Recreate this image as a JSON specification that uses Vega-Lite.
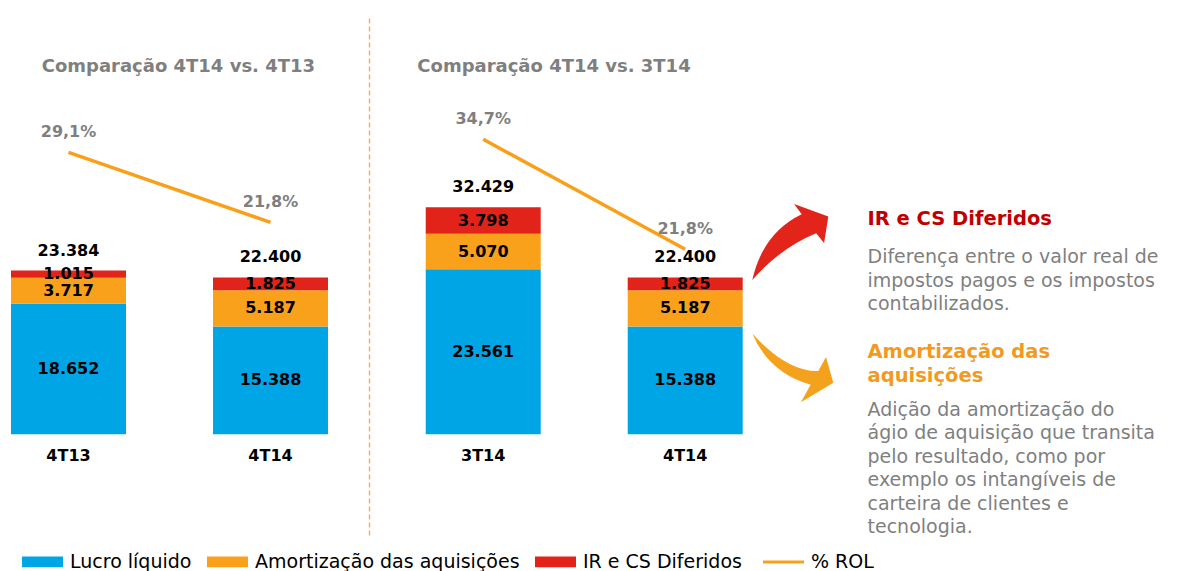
{
  "$schema": "https://vega.github.io/schema/vega-lite/v6.json",
  "padding": {"left": 0, "top": 15, "right": 0, "bottom": 0},
  "bounds": "flush",
  "spacing": 0,
  "background": "white",
  "datasets": {
    "barras": [
      {"painel": "A", "periodo": "4T13", "serie": "Lucro líquido", "ordem": 1, "valor": 18652},
      {"painel": "A", "periodo": "4T13", "serie": "Amortização das aquisições", "ordem": 2, "valor": 3717},
      {"painel": "A", "periodo": "4T13", "serie": "IR e CS Diferidos", "ordem": 3, "valor": 1015},
      {"painel": "A", "periodo": "4T14", "serie": "Lucro líquido", "ordem": 1, "valor": 15388},
      {"painel": "A", "periodo": "4T14", "serie": "Amortização das aquisições", "ordem": 2, "valor": 5187},
      {"painel": "A", "periodo": "4T14", "serie": "IR e CS Diferidos", "ordem": 3, "valor": 1825},
      {"painel": "B", "periodo": "3T14", "serie": "Lucro líquido", "ordem": 1, "valor": 23561},
      {"painel": "B", "periodo": "3T14", "serie": "Amortização das aquisições", "ordem": 2, "valor": 5070},
      {"painel": "B", "periodo": "3T14", "serie": "IR e CS Diferidos", "ordem": 3, "valor": 3798},
      {"painel": "B", "periodo": "4T14", "serie": "Lucro líquido", "ordem": 1, "valor": 15388},
      {"painel": "B", "periodo": "4T14", "serie": "Amortização das aquisições", "ordem": 2, "valor": 5187},
      {"painel": "B", "periodo": "4T14", "serie": "IR e CS Diferidos", "ordem": 3, "valor": 1825}
    ],
    "totais": [
      {"painel": "A", "periodo": "4T13", "total": 23384, "rol": 0.291},
      {"painel": "A", "periodo": "4T14", "total": 22400, "rol": 0.218},
      {"painel": "B", "periodo": "3T14", "total": 32429, "rol": 0.347},
      {"painel": "B", "periodo": "4T14", "total": 22400, "rol": 0.218}
    ]
  },
  "hconcat": [
    {
      "width": 369,
      "height": 520,
      "title": {"text": "Comparação 4T14 vs. 4T13", "anchor": "start", "frame": "group", "offset": -74.5, "baseline": "alphabetic", "dx": 41.7, "font": "DejaVu Sans", "fontSize": 18, "fontWeight": "bold", "color": "#7F7F7F"},
      "resolve": {"scale": {"y": "independent"}},
      "layer": [
        {
          "layer": [
            {
              "data": {"name": "barras"},
              "transform": [{"filter": "datum.painel === 'A'"}],
              "mark": {"type": "bar"},
              "encoding": {
                "x": {"field": "periodo", "type": "nominal", "scale": {"type": "band", "paddingInner": 0.4307, "paddingOuter": 0.1287, "align": 0.2115}, "axis": null},
                "y": {"field": "valor", "type": "quantitative", "stack": "zero", "scale": {"domain": [-14400, 59900], "nice": false, "zero": false},
                      "axis": {"orient": "right", "domain": true, "domainColor": "#F6B26B", "domainDash": [5, 3], "domainWidth": 1.5, "ticks": false, "labels": false, "grid": false, "title": null}},
                "color": {"field": "serie", "type": "nominal",
                          "scale": {"domain": ["Lucro líquido", "Amortização das aquisições", "IR e CS Diferidos", "% ROL"], "range": ["#00A5E6", "#F9A11B", "#E2231A", "#F9A01B"]},
                          "legend": {"orient": "none", "legendX": 33, "legendY": 537.2, "direction": "horizontal", "columns": 4, "title": null,
                                     "labelFont": "DejaVu Sans", "labelFontSize": 19, "labelColor": "#000000", "labelOffset": 18, "labelLimit": 400,
                                     "columnPadding": 15, "symbolSize": 1681, "symbolType": "M-1,-0.26H1V0.26H-1Z", "symbolStrokeWidth": 0,
                                     "encode": {"symbols": {"update": {
                                       "shape": {"signal": "datum.value === '% ROL' ? 'M-1,0H1' : 'M-1,-0.26H1V0.26H-1Z'"},
                                       "fill": {"signal": "datum.value === '% ROL' ? 'transparent' : scale('color', datum.value)"},
                                       "stroke": {"signal": "scale('color', datum.value)"},
                                       "strokeWidth": {"signal": "datum.value === '% ROL' ? 3 : 0"},
                                       "opacity": {"value": 1}
                                     }}}}},
                "order": {"field": "ordem", "type": "quantitative"}
              }
            },
            {
              "data": {"name": "barras"},
              "transform": [{"filter": "datum.painel === 'A'"}],
              "mark": {"type": "text", "font": "DejaVu Sans", "fontWeight": "bold", "fontSize": 16, "color": "#000000", "baseline": "middle"},
              "encoding": {
                "x": {"field": "periodo", "type": "nominal", "axis": null},
                "y": {"field": "valor", "type": "quantitative", "stack": "zero", "bandPosition": 0.5},
                "detail": {"field": "serie"},
                "order": {"field": "ordem", "type": "quantitative"},
                "text": {"field": "valor", "type": "quantitative", "format": ",d"}
              }
            },
            {
              "data": {"name": "totais"},
              "transform": [{"filter": "datum.painel === 'A'"}],
              "mark": {"type": "text", "font": "DejaVu Sans", "fontWeight": "bold", "fontSize": 16, "color": "#000000", "baseline": "middle", "dy": -20},
              "encoding": {
                "x": {"field": "periodo", "type": "nominal", "axis": null},
                "y": {"field": "total", "type": "quantitative"},
                "text": {"field": "total", "type": "quantitative", "format": ",d"}
              }
            },
            {
              "data": {"name": "totais"},
              "transform": [{"filter": "datum.painel === 'A'"}],
              "mark": {"type": "text", "font": "DejaVu Sans", "fontWeight": "bold", "fontSize": 16, "color": "#000000", "baseline": "middle", "dy": 21.5},
              "encoding": {
                "x": {"field": "periodo", "type": "nominal", "axis": null},
                "y": {"datum": 0, "type": "quantitative"},
                "text": {"field": "periodo", "type": "nominal"}
              }
            }
          ]
        },
        {
          "layer": [
            {
              "data": {"name": "totais"},
              "transform": [{"filter": "datum.painel === 'A'"}],
              "mark": {"type": "line", "strokeWidth": 3.5},
              "encoding": {
                "x": {"field": "periodo", "type": "nominal", "axis": null},
                "y": {"field": "rol", "type": "quantitative", "scale": {"domain": [-0.1081, 0.4342], "nice": false, "zero": false}, "axis": null},
                "color": {"datum": "% ROL", "type": "nominal"}
              }
            },
            {
              "data": {"name": "totais"},
              "transform": [{"filter": "datum.painel === 'A'"}],
              "mark": {"type": "text", "font": "DejaVu Sans", "fontWeight": "bold", "fontSize": 16, "color": "#7F7F7F", "baseline": "middle", "dy": -20},
              "encoding": {
                "x": {"field": "periodo", "type": "nominal", "axis": null},
                "y": {"field": "rol", "type": "quantitative"},
                "text": {"field": "rol", "type": "quantitative", "format": ".1%"}
              }
            }
          ]
        }
      ]
    },
    {
      "width": 381,
      "height": 520,
      "title": {"text": "Comparação 4T14 vs. 3T14", "anchor": "start", "frame": "group", "offset": -74.5, "baseline": "alphabetic", "dx": 48.3, "font": "DejaVu Sans", "fontSize": 18, "fontWeight": "bold", "color": "#7F7F7F"},
      "resolve": {"scale": {"y": "independent"}},
      "layer": [
        {
          "layer": [
            {
              "data": {"name": "barras"},
              "transform": [{"filter": "datum.painel === 'B'"}],
              "mark": {"type": "bar"},
              "encoding": {
                "x": {"field": "periodo", "type": "nominal", "scale": {"type": "band", "paddingInner": 0.4307, "paddingOuter": 0.1585, "align": 0.886}, "axis": null},
                "y": {"field": "valor", "type": "quantitative", "stack": "zero", "scale": {"domain": [-14400, 59900], "nice": false, "zero": false}, "axis": null},
                "color": {"field": "serie", "type": "nominal",
                          "scale": {"domain": ["Lucro líquido", "Amortização das aquisições", "IR e CS Diferidos", "% ROL"], "range": ["#00A5E6", "#F9A11B", "#E2231A", "#F9A01B"]}},
                "order": {"field": "ordem", "type": "quantitative"}
              }
            },
            {
              "data": {"name": "barras"},
              "transform": [{"filter": "datum.painel === 'B'"}],
              "mark": {"type": "text", "font": "DejaVu Sans", "fontWeight": "bold", "fontSize": 16, "color": "#000000", "baseline": "middle"},
              "encoding": {
                "x": {"field": "periodo", "type": "nominal", "axis": null},
                "y": {"field": "valor", "type": "quantitative", "stack": "zero", "bandPosition": 0.5},
                "detail": {"field": "serie"},
                "order": {"field": "ordem", "type": "quantitative"},
                "text": {"field": "valor", "type": "quantitative", "format": ",d"}
              }
            },
            {
              "data": {"name": "totais"},
              "transform": [{"filter": "datum.painel === 'B'"}],
              "mark": {"type": "text", "font": "DejaVu Sans", "fontWeight": "bold", "fontSize": 16, "color": "#000000", "baseline": "middle", "dy": -20},
              "encoding": {
                "x": {"field": "periodo", "type": "nominal", "axis": null},
                "y": {"field": "total", "type": "quantitative"},
                "text": {"field": "total", "type": "quantitative", "format": ",d"}
              }
            },
            {
              "data": {"name": "totais"},
              "transform": [{"filter": "datum.painel === 'B'"}],
              "mark": {"type": "text", "font": "DejaVu Sans", "fontWeight": "bold", "fontSize": 16, "color": "#000000", "baseline": "middle", "dy": 21.5},
              "encoding": {
                "x": {"field": "periodo", "type": "nominal", "axis": null},
                "y": {"datum": 0, "type": "quantitative"},
                "text": {"field": "periodo", "type": "nominal"}
              }
            }
          ]
        },
        {
          "layer": [
            {
              "data": {"name": "totais"},
              "transform": [{"filter": "datum.painel === 'B'"}],
              "mark": {"type": "line", "strokeWidth": 3.5},
              "encoding": {
                "x": {"field": "periodo", "type": "nominal", "axis": null},
                "y": {"field": "rol", "type": "quantitative", "scale": {"domain": [-0.1171, 0.4928], "nice": false, "zero": false}, "axis": null},
                "color": {"datum": "% ROL", "type": "nominal"}
              }
            },
            {
              "data": {"name": "totais"},
              "transform": [{"filter": "datum.painel === 'B'"}],
              "mark": {"type": "text", "font": "DejaVu Sans", "fontWeight": "bold", "fontSize": 16, "color": "#7F7F7F", "baseline": "middle", "dy": -20},
              "encoding": {
                "x": {"field": "periodo", "type": "nominal", "axis": null},
                "y": {"field": "rol", "type": "quantitative"},
                "text": {"field": "rol", "type": "quantitative", "format": ".1%"}
              }
            }
          ]
        }
      ]
    },
    {
      "width": 439,
      "height": 520,
      "data": {"values": [{}]},
      "layer": [
        {
          "mark": {"type": "point", "shape": "M-1,1Q-0.72,-0.24 0.3,-0.73L0.1,-1L1,-0.67L0.89,0.03L0.68,-0.23Q-0.27,0.16 -1,1Z", "filled": true, "color": "#E3241B", "opacity": 1, "size": 5776, "strokeWidth": 0},
          "encoding": {
            "x": {"datum": 9.18, "type": "quantitative", "scale": {"domain": [0, 100], "nice": false, "zero": false}, "axis": null},
            "y": {"datum": 43.65, "type": "quantitative", "scale": {"domain": [0, 100], "reverse": true, "nice": false, "zero": false}, "axis": null}
          }
        },
        {
          "mark": {"type": "point", "shape": "M-1,-0.85Q-0.6,0.12 0.44,0.42L0.2,0.85L1,0.37L0.82,-0.27L0.63,0.08Q-0.15,0.1 -1,-0.85Z", "filled": true, "color": "#F4A11D", "opacity": 1, "size": 6561, "strokeWidth": 0},
          "encoding": {
            "x": {"datum": 9.75, "type": "quantitative"},
            "y": {"datum": 67.85, "type": "quantitative"}
          }
        },
        {
          "mark": {"type": "text", "font": "DejaVu Sans", "fontWeight": "bold", "fontSize": 19.5, "color": "#C00000", "align": "left", "baseline": "alphabetic"},
          "encoding": {
            "x": {"datum": 26.77, "type": "quantitative"},
            "y": {"datum": 40.38, "type": "quantitative"},
            "text": {"value": "IR e CS Diferidos"}
          }
        },
        {
          "mark": {"type": "text", "font": "DejaVu Sans", "fontSize": 19, "color": "#7F7F7F", "align": "left", "baseline": "alphabetic", "lineHeight": 23.35},
          "encoding": {
            "x": {"datum": 26.77, "type": "quantitative"},
            "y": {"datum": 47.75, "type": "quantitative"},
            "text": {"value": ["Diferença entre o valor real de", "impostos pagos e os impostos", "contabilizados."]}
          }
        },
        {
          "mark": {"type": "text", "font": "DejaVu Sans", "fontWeight": "bold", "fontSize": 19.5, "color": "#F29A1F", "align": "left", "baseline": "alphabetic", "lineHeight": 23.4},
          "encoding": {
            "x": {"datum": 26.77, "type": "quantitative"},
            "y": {"datum": 66.02, "type": "quantitative"},
            "text": {"value": ["Amortização das", "aquisições"]}
          }
        },
        {
          "mark": {"type": "text", "font": "DejaVu Sans", "fontSize": 19, "color": "#7F7F7F", "align": "left", "baseline": "alphabetic", "lineHeight": 23.4},
          "encoding": {
            "x": {"datum": 26.77, "type": "quantitative"},
            "y": {"datum": 77.12, "type": "quantitative"},
            "text": {"value": ["Adição da amortização do", "ágio de aquisição que transita", "pelo resultado, como por", "exemplo os intangíveis de", "carteira de clientes e", "tecnologia."]}
          }
        }
      ]
    }
  ],
  "resolve": {"scale": {"color": "shared"}, "legend": {"color": "shared"}},
  "config": {
    "view": {"stroke": null},
    "font": "DejaVu Sans",
    "locale": {"number": {"decimal": ",", "thousands": ".", "grouping": [3], "currency": ["R$", ""]}}
  }
}
